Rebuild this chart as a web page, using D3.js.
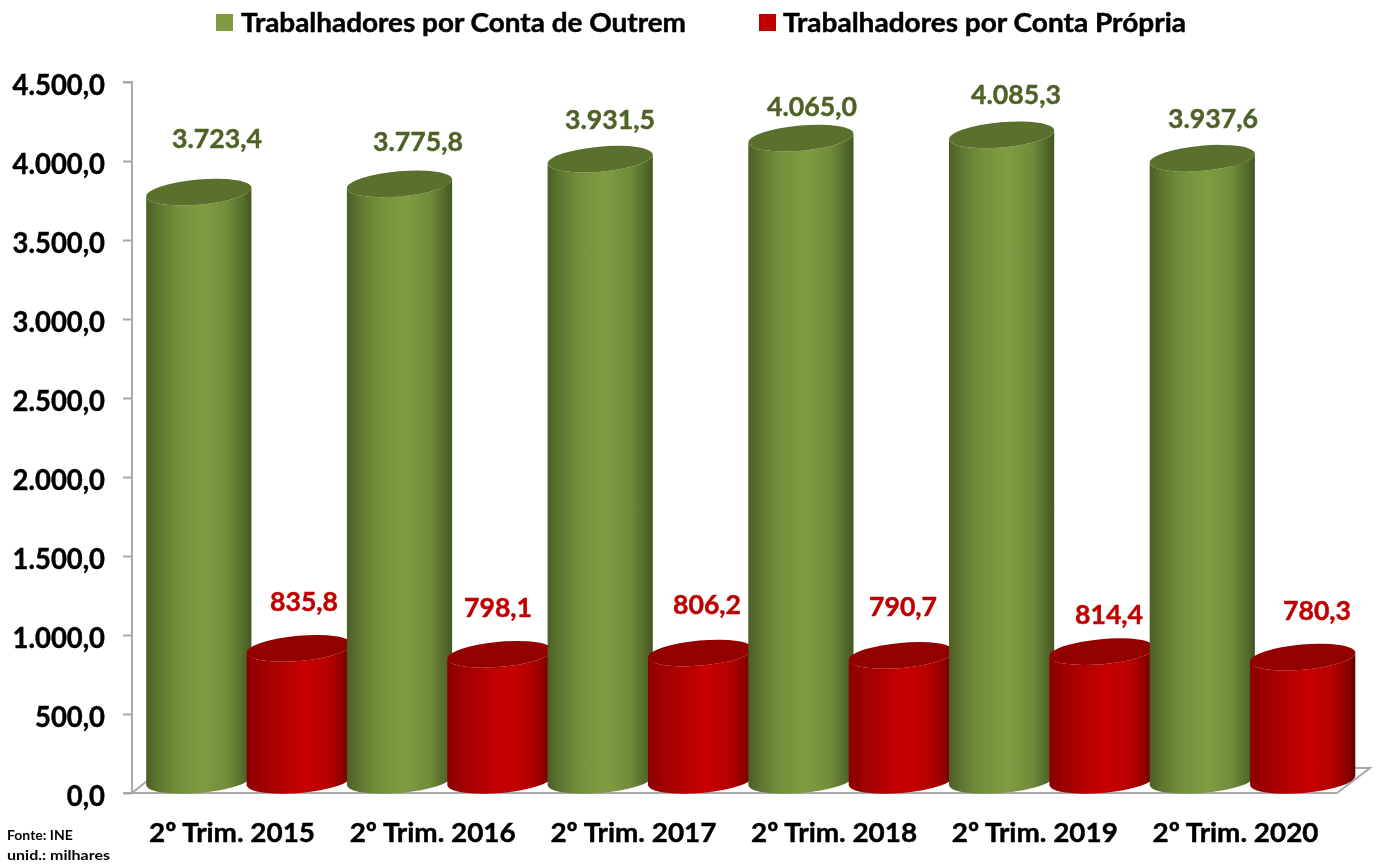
<!DOCTYPE html>
<html><head><meta charset="utf-8">
<script src="https://cdn.jsdelivr.net/npm/d3@7"></script>
<style>html,body{margin:0;background:#fff}svg{display:block}text{font-family:Lato,"Open Sans",sans-serif;font-weight:700;stroke-width:.45px;paint-order:stroke}</style>
</head><body><svg id="c" width="1379" height="864"></svg>
<script>
const categories=["2º Trim. 2015","2º Trim. 2016","2º Trim. 2017","2º Trim. 2018","2º Trim. 2019","2º Trim. 2020"];
const seriesNames=["Trabalhadores por Conta de Outrem","Trabalhadores por Conta Própria"];
const outrem=[3723.4,3775.8,3931.5,4065.0,4085.3,3937.6];
const propria=[835.8,798.1,806.2,790.7,814.4,780.3];
const yTicks=[0,500,1000,1500,2000,2500,3000,3500,4000,4500];

// layout: hand-placed label positions of the original chart
const outremLabelX=[217,418,610,812,1016,1213], outremLabelY=[138,141,119,106,94,118];
const propriaLabelX=[304,498,707,903,1109,1317], propriaLabelY=[601,607,604,606,614,610];

const svg=d3.select("#c");
const y=d3.scaleLinear().domain([0,4500]).range([793,82]);
const x=d3.scaleBand().domain(categories).range([146,1350.2]);
const fmt=d3.formatLocale({decimal:",",thousands:".",grouping:[3],currency:["","€"]}).format(",.1f");

const defs=svg.append("defs");
function grad(id,stops){const g=defs.append("linearGradient").attr("id",id);
  stops.forEach(s=>g.append("stop").attr("offset",s[0]).attr("stop-color",s[1]));}
grad("gG",[[0,"#4c5f27"],[.12,"#5f7630"],[.3,"#72903b"],[.55,"#809c42"],[.78,"#708c3a"],[.92,"#566c2c"],[1,"#445623"]]);
grad("gR",[[0,"#8a0000"],[.12,"#9c0000"],[.3,"#b00000"],[.55,"#c80000"],[.78,"#b60000"],[.92,"#8c0000"],[1,"#640000"]]);
defs.append("filter").attr("id","soft").attr("x","-2%").attr("y","-2%").attr("width","104%").attr("height","104%")
  .append("feGaussianBlur").attr("stdDeviation",0.4);

const root=svg.append("g").attr("filter","url(#soft)");
root.append("rect").attr("width",1379).attr("height",864).attr("fill","#fff");

// floor
const fl="#a9a9a9";
root.append("path").attr("fill","none").attr("stroke",fl).attr("stroke-width",2)
  .attr("d","M132,793 L147,781 M132,793 H1337 L1370,768 H1340");
// axis
const ax=root.append("g").attr("transform","translate(132,0)")
  .call(d3.axisLeft(y).tickValues(yTicks).tickFormat(fmt).tickSize(9).tickPadding(18));
ax.selectAll("path,line").attr("stroke",fl).attr("stroke-width",2);
ax.select("path").attr("d","M-9,82 H0 V793 H-9");
ax.selectAll("text").attr("fill","#000").attr("stroke","#000").attr("font-size",29).attr("dy","0.42em").attr("font-family","Lato")
  .attr("textLength",function(){return this.getComputedTextLength()*0.945}).attr("lengthAdjust","spacingAndGlyphs");

const rx=52.8, ry=12.6, rot=-5, dx=rx*Math.cos(5*Math.PI/180), dy=rx*Math.sin(5*Math.PI/180);
const w=105.6, off=100.4;
function cyl(g,left,val,fill,top){
  const cx=left+w/2, ct=y(val)-ry, cb=y(0)-ry;
  const L=cx-dx,R=cx+dx;
  g.append("path").attr("fill",`url(#${fill})`)
   .attr("d",`M${L},${ct+dy} L${L},${cb+dy} A${rx},${ry} ${rot} 0 0 ${R},${cb-dy} L${R},${ct-dy} A${rx},${ry} ${rot} 0 1 ${L},${ct+dy} Z`);
  g.append("path").attr("fill",top)
   .attr("d",`M${L},${ct+dy} A${rx},${ry} ${rot} 1 1 ${R},${ct-dy} A${rx},${ry} ${rot} 1 1 ${L},${ct+dy} Z`);
}
const bars=root.append("g");
categories.forEach((c,i)=>{
  cyl(bars,x(c),outrem[i],"gG","#5b702f");
  cyl(bars,x(c)+off,propria[i],"gR","#920000");
});
// value labels
function lab(t,xx,yy,col){root.append("text").attr("x",xx).attr("y",yy).attr("dy","0.36em").attr("text-anchor","middle")
  .attr("font-size",27).attr("fill",col).attr("stroke",col).attr("textLength",t.length>5?90:68).attr("lengthAdjust","spacingAndGlyphs").text(t);}
outrem.forEach((v,i)=>lab(fmt(v),outremLabelX[i],outremLabelY[i],"#4f6228"));
propria.forEach((v,i)=>lab(fmt(v),propriaLabelX[i],propriaLabelY[i],"#c00000"));
// category labels
categories.forEach((c,i)=>root.append("text").attr("x",x(c)+86).attr("y",842).attr("text-anchor","middle")
  .attr("font-size",27).attr("fill","#000").attr("stroke","#000").attr("textLength",166).attr("lengthAdjust","spacingAndGlyphs").text(c));
// legend
const lg=[[216,241,445,"#7f9a41"],[759,783,403,"#c00000"]];
lg.forEach((l,i)=>{
  root.append("rect").attr("x",l[0]).attr("y",14).attr("width",17).attr("height",17).attr("fill",l[3]);
  root.append("text").attr("x",l[1]).attr("y",32).attr("font-size",26).attr("fill","#000").attr("stroke","#000")
    .attr("textLength",l[2]).attr("lengthAdjust","spacingAndGlyphs").text(seriesNames[i]);
});
// notes
root.append("text").attr("x",7).attr("y",840).attr("font-size",14).attr("fill","#000").text("Fonte: INE");
root.append("text").attr("x",7).attr("y",860).attr("font-size",14).attr("fill","#000").attr("textLength",103).attr("lengthAdjust","spacingAndGlyphs").text("unid.: milhares");
</script></body></html>
